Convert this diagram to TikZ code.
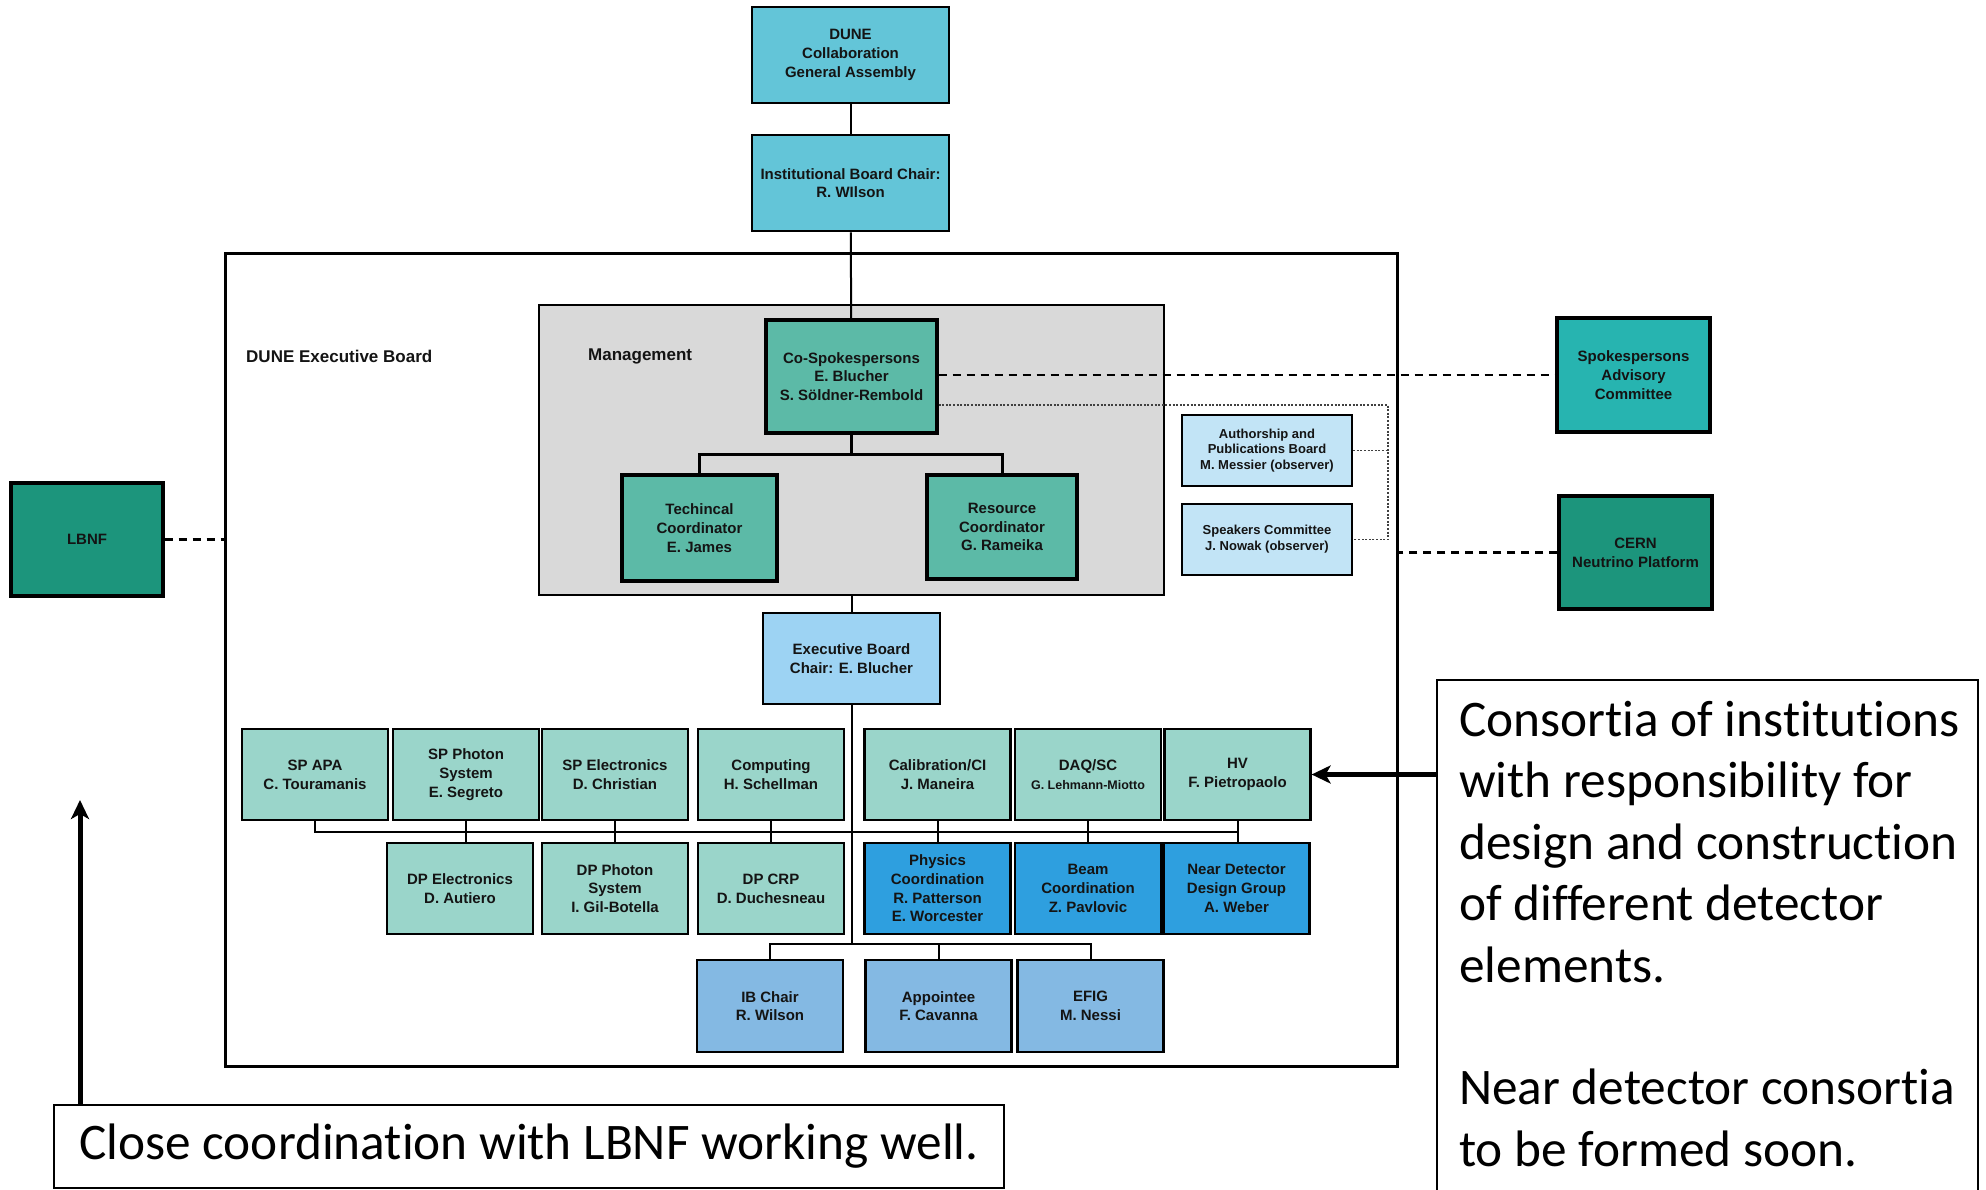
\documentclass[tikz,border=0pt]{standalone}
\usepackage{fontspec}
\newfontfamily\chartfont{Liberation Sans}
\newfontfamily\notefont[Ligatures=NoCommon]{Carlito}
\usetikzlibrary{arrows.meta}
\definecolor{gacol}{HTML}{63C5D8}
\definecolor{mgmtcol}{HTML}{5CBAA7}
\definecolor{greycol}{HTML}{D9D9D9}
\definecolor{advcol}{HTML}{27B4B0}
\definecolor{extcol}{HTML}{1C957C}
\definecolor{pubcol}{HTML}{C2E4F6}
\definecolor{chaircol}{HTML}{9DD3F3}
\definecolor{conscol}{HTML}{9AD5CA}
\definecolor{coordcol}{HTML}{2E9FDF}
\definecolor{ibcol}{HTML}{84B9E3}
\tikzset{
  orgbox/.style   = {draw=black, line width=2.8pt, align=center, inner sep=0pt,
                     text=black!92,
                     font=\chartfont\bfseries\fontsize{15}{18.7}\selectfont},
  topbox/.style   = {orgbox, fill=gacol, minimum width=197, minimum height=96},
  mgmtbox/.style  = {orgbox, fill=mgmtcol, line width=3.2pt},
  extbox/.style   = {orgbox, fill=extcol, line width=3.2pt,
                     minimum width=153, minimum height=113},
  pubbox/.style   = {orgbox, fill=pubcol, line width=2.2pt,
                     minimum width=170, minimum height=71,
                     font=\chartfont\bfseries\fontsize{13}{15.8}\selectfont},
  consbox/.style  = {orgbox, fill=conscol, line width=2.2pt,
                     minimum width=146, minimum height=91},
  coordbox/.style = {consbox, fill=coordcol},
  ibbox/.style    = {consbox, fill=ibcol, minimum height=92},
  frame/.style    = {draw=black, line width=3pt, inner sep=0pt},
  boardlbl/.style = {font=\chartfont\bfseries\fontsize{17}{20}\selectfont,
                     text=black!92, inner sep=0pt, anchor=west},
  link/.style     = {draw=black, line width=2pt},
  tielink/.style  = {draw=black, line width=2.3pt, dash pattern=on 8pt off 6pt},
  obslink/.style  = {draw=black!75, line width=1.2pt, dash pattern=on 2pt off 1.6pt},
  notebox/.style  = {draw=black, line width=2.4pt, inner sep=0pt, fill=white},
  notetext/.style = {font=\notefont\fontsize{51.3}{61.4}\selectfont, align=left,
                     inner sep=0pt},
  callout/.style  = {-{Stealth[length=19pt, width=18pt, inset=5pt]}, draw=black,
                     line width=5pt},
}
\begin{document}
\begin{tikzpicture}[x=1pt, y=-1pt]
    \useasboundingbox (0,0) rectangle (1986,1190);
    \clip (0,0) rectangle (1986,1190);
    \fill[white] (0,0) rectangle (1986,1190);

    % ---------------- collaboration
    \node[topbox] (ga) at (850.5,55) {DUNE\\Collaboration\\General Assembly};
    \node[topbox] (ib) at (850.5,183) {Institutional Board Chair:\\R. WIlson};

    % ---------------- executive board frame
    \node[frame, minimum width=1172, minimum height=812] (exec) at (811,660) {};
    \node[boardlbl] (execlbl) at (246,356) {DUNE Executive Board};
    \node[frame, fill=greycol, line width=2pt, minimum width=625,
          minimum height=290] (mgmt) at (851.5,450) {};
    \node[boardlbl] (mgmtlbl) at (588,356) {Management};

    % ---------------- management
    \node[mgmtbox, minimum width=171, minimum height=113] (cosp) at (851.5,376.5)
      {Co-Spokespersons\\E. Blucher\\S. S\"oldner-Rembold};
    \node[mgmtbox, minimum width=155, minimum height=106] (tech) at (699.5,528)
      {Techincal\\Coordinator\\E. James};
    \node[mgmtbox, minimum width=150, minimum height=104] (res) at (1002,527)
      {Resource\\Coordinator\\G. Rameika};

    % ---------------- advisory and outside bodies
    \node[orgbox, fill=advcol, line width=3.2pt, minimum width=153,
          minimum height=114] (spadv) at (1633.5,375)
      {Spokespersons\\Advisory\\Committee};
    \node[pubbox] (auth) at (1267,450.5)
      {Authorship and\\Publications Board\\M. Messier (observer)};
    \node[pubbox] (speak) at (1267,539.5)
      {Speakers Committee\\J. Nowak (observer)};
    \node[extbox] (cern) at (1635.5,552.5) {CERN\\Neutrino Platform};
    \node[extbox, minimum width=152] (lbnf) at (87,539.5) {LBNF};

    \node[orgbox, fill=chaircol, line width=2.2pt, minimum width=177,
          minimum height=91] (ebchair) at (851.5,658.5)
      {Executive Board\\Chair: E. Blucher};

    % ---------------- consortia
    \node[consbox] (spapa) at (315,774.5)   {SP APA\\C. Touramanis};
    \node[consbox] (spph)  at (466,774.5)   {SP Photon\\System\\E. Segreto};
    \node[consbox] (spel)  at (615,774.5)   {SP Electronics\\D. Christian};
    \node[consbox] (comp)  at (771,774.5)   {Computing\\H. Schellman};
    \node[consbox] (calib) at (937.5,774.5) {Calibration/CI\\J. Maneira};
    \node[consbox] (daq)   at (1088,774.5)
      {DAQ/SC\\{\fontsize{12.5}{16}\selectfont G. Lehmann-Miotto}};
    \node[consbox] (hv)    at (1237.5,774.5) {HV\\F. Pietropaolo};

    \node[consbox] (dpel)  at (460,888.5)   {DP Electronics\\D. Autiero};
    \node[consbox] (dpph)  at (615,888.5)   {DP Photon\\System\\I. Gil-Botella};
    \node[consbox] (dpcrp) at (771,888.5)   {DP CRP\\D. Duchesneau};
    \node[coordbox] (phys) at (937.5,888.5)
      {Physics\\Coordination\\R. Patterson\\E. Worcester};
    \node[coordbox] (beam) at (1088,888.5)  {Beam\\Coordination\\Z. Pavlovic};
    \node[coordbox] (near) at (1236.5,888.5)
      {Near Detector\\Design Group\\A. Weber};

    \node[ibbox] (ibchair) at (770,1006)    {IB Chair\\R. Wilson};
    \node[ibbox] (appt)    at (938.5,1006)  {Appointee\\F. Cavanna};
    \node[ibbox] (efig)    at (1090.5,1006) {EFIG\\M. Nessi};

    % ---------------- reporting lines
    \coordinate (mbus)  at (0,454);
    \coordinate (bus)   at (0,832);
    \coordinate (lowbus) at (0,944);
    \draw[link] (ga) -- (ib);
    \draw[link] (ib) -- (cosp);
    \draw[link, line width=3pt] (cosp.south) -- (cosp.south |- mbus);
    \draw[link, line width=3pt] (tech.north) -- (tech.north |- mbus)
      -- (res.north |- mbus) -- (res.north);
    \draw[link] (mgmt.south) -- (ebchair.north);
    \draw[link] (ebchair.south) -- (ebchair.south |- lowbus);
    \draw[link] (spapa.south) -- (spapa.south |- bus) -- (hv.south |- bus);
    \foreach \a/\b in {spph/dpel, spel/dpph, comp/dpcrp, calib/phys, daq/beam, hv/near}
      {\draw[link] (\a.south) -- (\a.south |- \b.north);}
    \draw[link] (ibchair.north) -- (ibchair.north |- lowbus)
      -- (efig.north |- lowbus) -- (efig.north);
    \draw[link] (appt.north) -- (appt.north |- lowbus);

    % ---------------- ties
    \coordinate (dotbend) at (1388,405);
    \draw[tielink] (cosp.east |- spadv.west) -- (spadv.west);
    \draw[tielink] (cern.west) -- (cern.west -| exec.east);
    \draw[tielink] (lbnf.east) -- (lbnf.east -| exec.west);
    \draw[obslink] (cosp.east |- dotbend) -- (dotbend) |- (speak.east);
    \draw[obslink] (auth.east) -- (auth.east -| dotbend);

    % ---------------- notes
    \node[notebox, minimum width=541, minimum height=560] (consnote)
      at (1707.5,960) {};
    \node[notetext, anchor=north west] (constext) at (1459,701)
      {Consortia of institutions\\with responsibility for\\design and construction\\
       of different detector\\elements.\\[61.4pt]Near detector consortia\\
       to be formed soon.};
    \node[notebox, line width=2.6pt, minimum width=950, minimum height=83,
          font=\notefont\fontsize{51.3}{61.4}\selectfont] (lbnfnote) at (529,1146.5)
      {Close coordination with LBNF working well.};
    \coordinate (uptip) at (80,800);
    \draw[callout] (lbnfnote.north -| uptip) -- (uptip);
    \draw[callout] (consnote.west |- hv.east) -- (hv.east);
  \end{tikzpicture}
\end{document}
